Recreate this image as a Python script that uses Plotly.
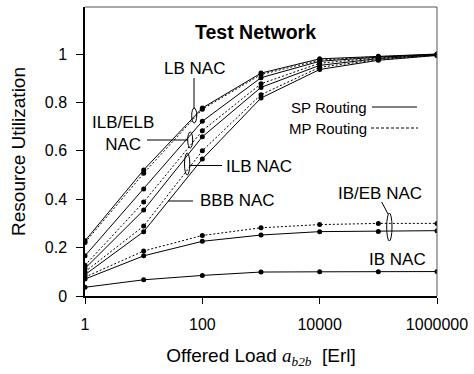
import plotly.graph_objects as go

# ---------------- data ----------------
load = [1, 10, 100, 1000, 10000, 100000, 1000000]

lb_sp = [0.228, 0.521, 0.777, 0.921, 0.980, 0.991, 1.000]
lb_mp = [0.221, 0.507, 0.772, 0.915, 0.975, 0.989, 0.999]
ilbelb_sp = [0.166, 0.442, 0.722, 0.902, 0.970, 0.987, 0.998]
ilbelb_mp = [0.127, 0.388, 0.683, 0.877, 0.962, 0.984, 0.997]
ilb_sp = [0.114, 0.355, 0.658, 0.862, 0.953, 0.981, 0.996]
ilb_mp = [0.100, 0.289, 0.600, 0.832, 0.945, 0.977, 0.995]
bbb_sp = [0.088, 0.266, 0.566, 0.818, 0.936, 0.974, 0.994]
ibeb_sp = [0.070, 0.166, 0.226, 0.252, 0.266, 0.267, 0.270]
ibeb_mp = [0.078, 0.186, 0.250, 0.282, 0.295, 0.300, 0.300]
ib_sp = [0.036, 0.067, 0.085, 0.099, 0.100, 0.100, 0.101]

x_tickvals = [1, 100, 10000, 1000000]
x_ticktext = ["1", "100", "10000", "1000000"]
y_tickvals = [0, 0.2, 0.4, 0.6, 0.8, 1]
y_ticktext = ["0", "0.2", "0.4", "0.6", "0.8", "1"]

series = [
    ("LB NAC SP", lb_sp, "solid"),
    ("LB NAC MP", lb_mp, "dot"),
    ("ILB/ELB NAC SP", ilbelb_sp, "solid"),
    ("ILB/ELB NAC MP", ilbelb_mp, "dot"),
    ("ILB NAC SP", ilb_sp, "solid"),
    ("ILB NAC MP", ilb_mp, "dot"),
    ("BBB NAC SP", bbb_sp, "solid"),
    ("IB/EB NAC SP", ibeb_sp, "solid"),
    ("IB/EB NAC MP", ibeb_mp, "dot"),
    ("IB NAC SP", ib_sp, "solid"),
]

W, H = 474, 374
L, R, T, B = 85, 437, 7, 296
FONT = "Arial, 'Liberation Sans', sans-serif"


def px(X):
    return (X - L) / (R - L)


def py(Y):
    return (B - Y) / (B - T)


fig = go.Figure()
for name, vals, dash in series:
    fig.add_trace(go.Scatter(
        x=load, y=vals, mode="lines+markers", name=name,
        line=dict(color="black", width=1, dash="2px,2px" if dash == "dot" else "solid"),
        marker=dict(color="black", size=5),
        showlegend=False,
    ))

shapes = []
# frame top and right
shapes.append(dict(type="line", xref="paper", yref="paper", x0=0, x1=1, y0=1, y1=1,
                   line=dict(color="#555", width=1)))
shapes.append(dict(type="line", xref="paper", yref="paper", x0=1, x1=1, y0=0, y1=1,
                   line=dict(color="#555", width=1)))


def seg(x0, y0, x1, y1, dash="solid"):
    shapes.append(dict(type="line", xref="paper", yref="paper",
                       x0=px(x0), y0=py(y0), x1=px(x1), y1=py(y1),
                       line=dict(color="black", width=1, dash=dash)))


def ell(x0, y0, x1, y1):
    shapes.append(dict(type="circle", xref="paper", yref="paper",
                       x0=px(x0), y0=py(y0), x1=px(x1), y1=py(y1),
                       line=dict(color="black", width=1)))


# pointers and ellipses
seg(194, 78, 194, 109)
ell(191.7, 108, 196.7, 123)
seg(147, 140, 188, 140)
ell(187.7, 132, 192.7, 148)
seg(189.5, 165.5, 222, 165.5)
ell(184.5, 153, 189.8, 175)
seg(168, 201, 193, 201)
seg(381.7, 202, 388, 214)
ell(386.7, 213, 392, 241)
# legend samples
seg(372, 107, 417, 107)
seg(371, 128, 418, 128, dash="3px,2px")

annotations = []


def txt(s, X, Y, size=17, anchor="center", bold=False):
    annotations.append(dict(text=("<b>%s</b>" % s) if bold else s, xref="paper", yref="paper",
                            x=px(X), y=py(Y), xanchor=anchor, yanchor="middle",
                            showarrow=False, font=dict(family=FONT, size=size, color="black")))


txt("Test Network", 255, 32, size=19.5, bold=True)
txt("LB NAC", 194, 68.5)
txt("ILB/ELB<br>NAC", 123, 133.5)
txt("ILB NAC", 259, 166)
txt("BBB NAC", 237.5, 200)
txt("IB/EB NAC", 379.5, 193)
txt("IB NAC", 397.5, 259.5)
txt("SP Routing", 368.5, 107.5, size=15, anchor="right")
txt("MP Routing", 369, 128.5, size=15, anchor="right")

fig.update_layout(
    width=W, height=H,
    margin=dict(l=L, r=W - R, t=T, b=H - B, pad=0),
    paper_bgcolor="white", plot_bgcolor="white",
    font=dict(family=FONT, size=16, color="black"),
    shapes=shapes, annotations=annotations,
    xaxis=dict(
        type="log", range=[0, 6], tickvals=x_tickvals, ticktext=x_ticktext,
        ticks="outside", ticklen=6, tickcolor="black", tickwidth=1,
        showline=True, linecolor="black", linewidth=1.5, showgrid=False, zeroline=False,
        tickfont=dict(size=16), ticklabelstandoff=7,
        title=dict(text="Offered Load <i><span style=\"font-family:'Liberation Serif',serif\">a</span></i>"
                        "<sub><i><span style=\"font-family:'Liberation Serif',serif\">b2b</span></i></sub>  [Erl]",
                   font=dict(size=19), standoff=17),
    ),
    yaxis=dict(
        range=[0, (B - T) / 242.0], tickvals=y_tickvals, ticktext=y_ticktext,
        ticks="outside", ticklen=7, tickcolor="black", tickwidth=1,
        showline=True, linecolor="black", linewidth=1.5, showgrid=False, zeroline=False,
        tickfont=dict(size=16), ticklabelstandoff=6,
        title=dict(text="Resource Utilization", font=dict(size=19), standoff=14),
    ),
)

fig.write_html("out.html")
